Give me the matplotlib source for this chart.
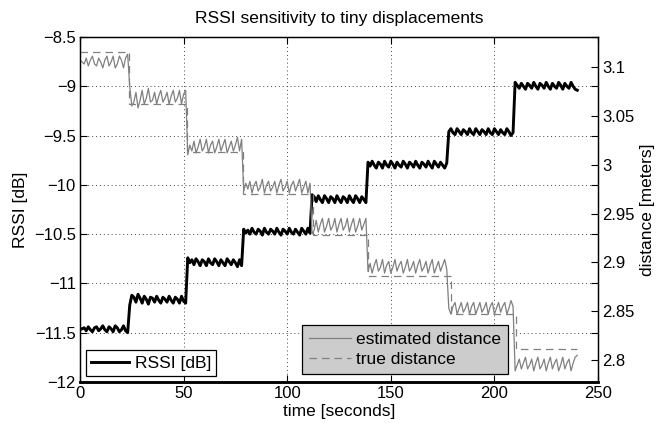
import numpy as np
import matplotlib
matplotlib.use("Agg")
import matplotlib.pyplot as plt
from matplotlib.ticker import FuncFormatter

plt.rcParams['font.family'] = ['Liberation Sans', 'DejaVu Sans']
plt.rcParams['axes.unicode_minus'] = True

# ---------------- data ----------------
time_s = list(range(0, 241))

rssi_db = [
    # 0..23
    -11.47, -11.46, -11.45, -11.48, -11.44, -11.47, -11.49, -11.45, -11.44, -11.48,
    -11.46, -11.43, -11.47, -11.49, -11.44, -11.46, -11.49, -11.43, -11.45, -11.49,
    -11.47, -11.43, -11.48, -11.50,
    # 24..51
    -11.22, -11.12, -11.14, -11.19, -11.11, -11.15, -11.20, -11.13, -11.16, -11.21,
    -11.14, -11.15, -11.19, -11.13, -11.17, -11.20, -11.14, -11.16, -11.19, -11.13,
    -11.17, -11.20, -11.14, -11.16, -11.20, -11.13, -11.18, -11.20,
    # 52..78
    -10.74, -10.79, -10.76, -10.81, -10.75, -10.78, -10.82, -10.76, -10.78, -10.82,
    -10.75, -10.79, -10.81, -10.75, -10.78, -10.82, -10.76, -10.79, -10.82, -10.75,
    -10.78, -10.81, -10.76, -10.79, -10.83, -10.76, -10.82,
    # 79..111
    -10.45, -10.49, -10.46, -10.50, -10.44, -10.48, -10.50, -10.45, -10.47, -10.51,
    -10.44, -10.48, -10.50, -10.45, -10.47, -10.50, -10.44, -10.48, -10.51, -10.45,
    -10.47, -10.50, -10.44, -10.48, -10.50, -10.45, -10.48, -10.51, -10.44, -10.47,
    -10.50, -10.44, -10.49,
    # 112..138
    -10.10, -10.12, -10.17, -10.11, -10.15, -10.18, -10.11, -10.14, -10.18, -10.12,
    -10.14, -10.18, -10.11, -10.15, -10.18, -10.12, -10.14, -10.18, -10.11, -10.15,
    -10.18, -10.11, -10.14, -10.18, -10.12, -10.15, -10.18,
    # 139..177
    -9.77, -9.81, -9.76, -9.80, -9.83, -9.77, -9.79, -9.83, -9.76, -9.80,
    -9.82, -9.76, -9.79, -9.83, -9.77, -9.80, -9.82, -9.76, -9.79, -9.83,
    -9.77, -9.79, -9.82, -9.76, -9.80, -9.83, -9.77, -9.79, -9.82, -9.76,
    -9.80, -9.83, -9.76, -9.79, -9.82, -9.77, -9.80, -9.83, -9.78,
    # 178..209
    -9.46, -9.43, -9.47, -9.49, -9.43, -9.46, -9.49, -9.44, -9.46, -9.49,
    -9.43, -9.47, -9.49, -9.43, -9.46, -9.49, -9.44, -9.46, -9.49, -9.43,
    -9.47, -9.49, -9.43, -9.46, -9.49, -9.44, -9.47, -9.49, -9.43, -9.46,
    -9.50, -9.47,
    # 210..240
    -8.96, -8.99, -9.02, -8.97, -9.00, -9.03, -8.97, -8.99, -9.02, -8.96,
    -9.00, -9.03, -8.97, -8.99, -9.02, -8.96, -9.00, -9.03, -8.97, -9.00,
    -9.02, -8.96, -8.99, -9.03, -8.97, -9.00, -9.02, -8.96, -9.00, -9.03,
    -9.04,
]

est_distance_m = [
    # 0..23
    3.107, 3.105, 3.103, 3.109, 3.101, 3.107, 3.111, 3.103, 3.101, 3.109,
    3.105, 3.099, 3.107, 3.111, 3.101, 3.105, 3.111, 3.099, 3.103, 3.111,
    3.107, 3.099, 3.109, 3.113,
    # 24..51
    3.080, 3.060, 3.064, 3.074, 3.058, 3.066, 3.076, 3.062, 3.068, 3.078,
    3.064, 3.066, 3.074, 3.062, 3.070, 3.076, 3.064, 3.068, 3.074, 3.062,
    3.070, 3.076, 3.064, 3.068, 3.076, 3.062, 3.072, 3.076,
    # 52..78
    3.010, 3.020, 3.014, 3.024, 3.012, 3.018, 3.026, 3.014, 3.018, 3.026,
    3.012, 3.020, 3.024, 3.012, 3.018, 3.026, 3.014, 3.020, 3.026, 3.012,
    3.018, 3.024, 3.014, 3.020, 3.028, 3.014, 3.026,
    # 79..111
    2.973, 2.981, 2.975, 2.983, 2.971, 2.979, 2.983, 2.973, 2.977, 2.985,
    2.971, 2.979, 2.983, 2.973, 2.977, 2.983, 2.971, 2.979, 2.985, 2.973,
    2.977, 2.983, 2.971, 2.979, 2.983, 2.973, 2.979, 2.985, 2.971, 2.977,
    2.983, 2.971, 2.981,
    # 112..138
    2.929, 2.933, 2.943, 2.931, 2.939, 2.945, 2.931, 2.937, 2.945, 2.933,
    2.937, 2.945, 2.931, 2.939, 2.945, 2.933, 2.937, 2.945, 2.931, 2.939,
    2.945, 2.931, 2.937, 2.945, 2.933, 2.939, 2.945,
    # 139..177
    2.891, 2.899, 2.889, 2.897, 2.903, 2.891, 2.895, 2.903, 2.889, 2.897,
    2.901, 2.889, 2.895, 2.903, 2.891, 2.897, 2.901, 2.889, 2.895, 2.903,
    2.891, 2.895, 2.901, 2.889, 2.897, 2.903, 2.891, 2.895, 2.901, 2.889,
    2.897, 2.903, 2.889, 2.895, 2.901, 2.891, 2.897, 2.903, 2.893,
    # 178..209
    2.853, 2.847, 2.855, 2.859, 2.847, 2.853, 2.859, 2.849, 2.853, 2.859,
    2.847, 2.855, 2.859, 2.847, 2.853, 2.859, 2.849, 2.853, 2.859, 2.847,
    2.855, 2.859, 2.847, 2.853, 2.859, 2.849, 2.855, 2.859, 2.847, 2.853,
    2.861, 2.855,
    # 210..240
    2.789, 2.795, 2.801, 2.791, 2.797, 2.803, 2.791, 2.795, 2.801, 2.789,
    2.797, 2.803, 2.791, 2.795, 2.801, 2.789, 2.797, 2.803, 2.791, 2.797,
    2.801, 2.789, 2.795, 2.803, 2.791, 2.797, 2.801, 2.789, 2.797, 2.803,
    2.805,
]

true_step_times = [0, 23.5, 51.5, 78.5, 112.5, 139, 179, 210.5, 240]
true_distance_m = [3.115, 3.062, 3.013, 2.970, 2.928, 2.886, 2.847, 2.811, 2.811]

x_ticks = [0, 50, 100, 150, 200, 250]
rssi_ticks = [-12, -11.5, -11, -10.5, -10, -9.5, -9, -8.5]
dist_ticks = [2.8, 2.85, 2.9, 2.95, 3.0, 3.05, 3.1]

# ---------------- figure ----------------
fig = plt.figure(figsize=(6.56, 4.24), dpi=100)
ax1 = fig.add_axes([80/656, 1-382/424, 518/656, 345/424])
ax2 = ax1.twinx()

FS = 12
LFS = 12.5
grey = (0.5, 0.5, 0.5)

ax1.plot(time_s, rssi_db, color='k', lw=2.1, label='RSSI [dB]', solid_joinstyle='round')
ax2.plot(time_s, est_distance_m, color=grey, lw=0.9, label='estimated distance')
ax2.step(true_step_times, true_distance_m, where='post', color=grey, lw=0.9,
         linestyle=(0, (6, 4)), label='true distance')

ax1.set_xlim(0, 250)
ax1.set_ylim(-12, -8.5)
ax2.set_ylim(2.7776, 3.1306)
ax1.set_xticks(x_ticks)
ax1.set_yticks(rssi_ticks)
ax2.set_yticks(dist_ticks)

fmt = FuncFormatter(lambda v, p: ('%g' % v).replace('-', '\u2212'))
ax1.yaxis.set_major_formatter(fmt)
ax2.yaxis.set_major_formatter(fmt)
ax1.xaxis.set_major_formatter(fmt)

ax1.grid(True, linestyle=(0, (1, 3)), color='#444444', linewidth=0.7)

ax1.tick_params(axis='both', direction='in', length=5, width=0.8, labelsize=FS,
                top=True, right=True, pad=3)
ax2.tick_params(axis='y', direction='in', length=5, width=0.8, labelsize=FS, pad=3)

for ax in (ax1, ax2):
    for s in ax.spines.values():
        s.set_linewidth(0.9)
    ax.spines['bottom'].set_linewidth(1.8)

ax1.set_xlabel('time [seconds]', fontsize=LFS, labelpad=2)
ax1.set_ylabel('RSSI [dB]', fontsize=LFS, labelpad=4)
ax2.set_ylabel('distance [meters]', fontsize=LFS, labelpad=4)
ax1.set_title('RSSI sensitivity to tiny displacements', fontsize=LFS, pad=10)

leg1 = ax1.legend(loc='lower left', bbox_to_anchor=(0.0116, 0.0174), borderaxespad=0,
                  fontsize=LFS, frameon=True, fancybox=False, framealpha=1,
                  edgecolor='k', facecolor='white', handlelength=2.2,
                  handletextpad=0.3, borderpad=0.3)
leg1.get_frame().set_linewidth(0.9)

leg2 = ax2.legend(loc='lower left', bbox_to_anchor=(0.4286, 0.0232), borderaxespad=0,
                  fontsize=LFS, frameon=True, fancybox=False, framealpha=1,
                  edgecolor='k', facecolor='#cccccc', handlelength=2.4,
                  handletextpad=0.3, borderpad=0.4, labelspacing=0.3)
leg2.get_frame().set_linewidth(0.9)

fig.savefig('out.png', dpi=100)
